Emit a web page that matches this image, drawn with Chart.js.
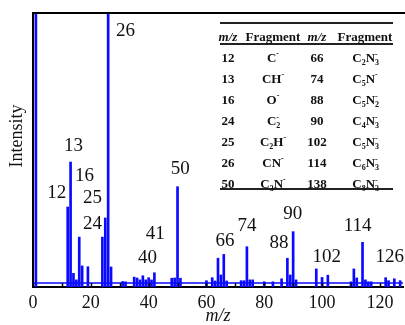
<!DOCTYPE html>
<html>
<head>
<meta charset="utf-8">
<script src="https://cdn.jsdelivr.net/npm/chart.js@4.4.0/dist/chart.umd.min.js"></script>
<style>
  html, body { margin: 0; padding: 0; background: #fff; }
  #wrap { position: relative; width: 405px; height: 325px; overflow: hidden; }
  #tbl { position: absolute; left: 0; top: 0; width: 405px; height: 325px; pointer-events: none;
         font-family: "Liberation Serif", "Times New Roman", serif; font-weight: bold; font-size: 13px; color: #111; }
  .rule { position: absolute; height: 2px; background: #222; }
  .cell { position: absolute; transform: translate(-50%, -50%); white-space: nowrap; line-height: 1; }
  .cell sub, .cell sup { font-size: 8px; line-height: 0; }
  .cell sup.st { margin-left: -4px; }
</style>
</head>
<body>
<div id="wrap">
  <canvas id="ms" width="405" height="325"></canvas>
  <div id="tbl"></div>
</div>
<script>
/* ---- spectrum data (m/z, relative intensity) ---- */
const mzValues    = [1, 12, 13, 14, 15, 16, 17, 19, 24, 25, 26, 27, 31, 32,
                     35, 36, 37, 38, 39, 40, 41, 42, 48, 49, 50, 51, 60, 62, 63, 64, 65, 66, 67,
                     72, 73, 74, 75, 76, 80, 83, 86, 88, 89, 90, 91, 98, 100, 102,
                     110, 111, 112, 114, 115, 116, 117, 122, 123, 125, 127];
const intensities = [130, 29.2, 45.6, 5.0, 2.6, 18.2, 7.7, 7.4, 18.2, 25.2, 130, 7.3, 2.0, 1.9,
                     3.6, 3.3, 2.6, 4.1, 2.6, 3.4, 2.6, 5.2, 3.2, 3.3, 36.6, 3.2, 2.3, 3.4, 2.2, 10.5, 4.4, 11.9, 2.2,
                     2.3, 2.3, 14.7, 2.6, 2.6, 1.9, 1.9, 3.0, 10.5, 4.4, 20.2, 2.6, 6.6, 3.5, 4.3,
                     1.9, 6.6, 3.3, 16.3, 2.6, 1.9, 1.9, 3.4, 2.3, 3.0, 2.3];
const baselineLevel = 1.5;

/* ---- peak annotations ---- */
const peakLabels     = ['12', '13', '16', '24', '25', '26', '40', '41', '50', '66', '74', '88', '90', '102', '114', '126'];
const labelMz        = [8.2, 14.0, 17.8, 20.6, 20.6, 32.0, 39.6, 42.3, 50.9, 66.4, 74.0, 85.1, 89.9, 101.6, 112.3, 123.4];
const labelIntensity = [34.3, 51.5, 40.5, 23.0, 32.5, 93.4, 10.6, 19.3, 43.1, 16.8, 22.3, 16.1, 26.6, 10.9, 22.3, 10.9];

/* ---- axis ---- */
const xMin = 0, xMax = 128, xStep = 10, xLabelEvery = 20;

/* ---- fragment table ---- */
const tableMzLeft    = ['12', '13', '16', '24', '25', '26', '50'];
const tableFragLeft  = ['C-', 'CH-', 'O-', 'C2-', 'C2H-', 'CN-', 'C3N-'];
const tableMzRight   = ['66', '74', '88', '90', '102', '114', '138'];
const tableFragRight = ['C2N3-', 'C5N-', 'C5N2-', 'C4N3-', 'C5N3-', 'C6N3-', 'C8N3-'];

const BLUE = '#0a0aff';
const SERIF = '"Liberation Serif", "Times New Roman", serif';

function fragHtml(f) {
  let s = f.replace(/(\d)/g, '<sub>$1</sub>');
  if (/\d-$/.test(f)) return s.replace(/-$/, '<sup class="st">-</sup>');
  return s.replace(/-$/, '<sup>-</sup>');
}

function buildTable() {
  const el = document.getElementById('tbl');
  const left = 220, right = 393;
  const cols = [228, 273, 317, 365];
  const rule = (y) => `<div class="rule" style="left:${left}px;width:${right - left}px;top:${y}px"></div>`;
  const cell = (x, y, html) => `<div class="cell" style="left:${x}px;top:${y}px">${html}</div>`;
  let h = rule(22) + rule(42.5) + rule(188);
  h += cell(cols[0], 36, '<i>m/z</i>') + cell(cols[1], 36, 'Fragment') +
       cell(cols[2], 36, '<i>m/z</i>') + cell(cols[3], 36, 'Fragment');
  tableMzLeft.forEach((m, i) => {
    const y = 57 + 21 * i;
    h += cell(cols[0], y, m) + cell(cols[1], y, fragHtml(tableFragLeft[i])) +
         cell(cols[2], y, tableMzRight[i]) + cell(cols[3], y, fragHtml(tableFragRight[i]));
  });
  el.innerHTML = h;
}

const decor = {
  id: 'decor',
  afterDraw(chart) {
    const { ctx, chartArea: a, scales: { x, y } } = chart;
    ctx.save();
    // top frame
    ctx.strokeStyle = '#000';
    ctx.lineWidth = 2;
    ctx.beginPath();
    ctx.moveTo(a.left - 1, a.top);
    ctx.lineTo(a.right + 2, a.top);
    ctx.stroke();
    // inward ticks
    ctx.lineWidth = 1.5;
    ctx.beginPath();
    x.ticks.forEach(t => {
      const px = Math.round(x.getPixelForValue(t.value)) + 0.5;
      ctx.moveTo(px, a.bottom);
      ctx.lineTo(px, a.bottom - 4);
    });
    ctx.stroke();
    // peak labels
    ctx.fillStyle = '#111';
    ctx.font = '19px ' + SERIF;
    ctx.textAlign = 'center';
    ctx.textBaseline = 'middle';
    peakLabels.forEach((t, i) => {
      ctx.fillText(t, x.getPixelForValue(labelMz[i]), y.getPixelForValue(labelIntensity[i]));
    });
    // y title
    ctx.font = '18px ' + SERIF;
    ctx.translate(17, 136);
    ctx.rotate(-Math.PI / 2);
    ctx.fillText('Intensity', 0, 0);
    ctx.restore();
  }
};

buildTable();

new Chart(document.getElementById('ms'), {
  type: 'bar',
  data: {
    datasets: [
      {
        type: 'line',
        data: [{ x: xMin, y: baselineLevel }, { x: xMax, y: baselineLevel }],
        borderColor: BLUE,
        borderWidth: 1.5,
        pointRadius: 0,
        order: 2,
      },
      {
        type: 'bar',
        data: mzValues.map((m, i) => ({ x: m, y: intensities[i] })),
        backgroundColor: BLUE,
        borderWidth: 0,
        barThickness: 2,
        order: 1,
      },
    ],
  },
  options: {
    responsive: false,
    devicePixelRatio: 1,
    animation: false,
    layout: { padding: { top: 13, right: 2, left: 0, bottom: 0 } },
    plugins: { legend: { display: false }, tooltip: { enabled: false } },
    scales: {
      x: {
        type: 'linear',
        min: xMin,
        max: xMax,
        offset: false,
        afterFit: s => { s.height = 38; },
        grid: { display: false, drawTicks: false, offset: false },
        border: { display: true, color: '#000', width: 2 },
        ticks: {
          stepSize: xStep,
          includeBounds: false,
          padding: 5,
          color: '#111',
          font: { family: SERIF, size: 18 },
          maxRotation: 0,
          autoSkip: false,
          callback: v => (v % xLabelEvery === 0 ? v : ''),
        },
        title: {
          display: true,
          text: 'm/z',
          color: '#111',
          font: { family: SERIF, size: 18, style: 'italic', lineHeight: 1 },
          padding: { top: 0, bottom: 0 },
        },
      },
      y: {
        min: 0,
        max: 100,
        afterFit: s => { s.width = 33; },
        grid: { display: false, drawTicks: false },
        border: { display: true, color: '#000', width: 2 },
        ticks: { display: false },
      },
    },
  },
  plugins: [decor],
});
</script>
</body>
</html>
